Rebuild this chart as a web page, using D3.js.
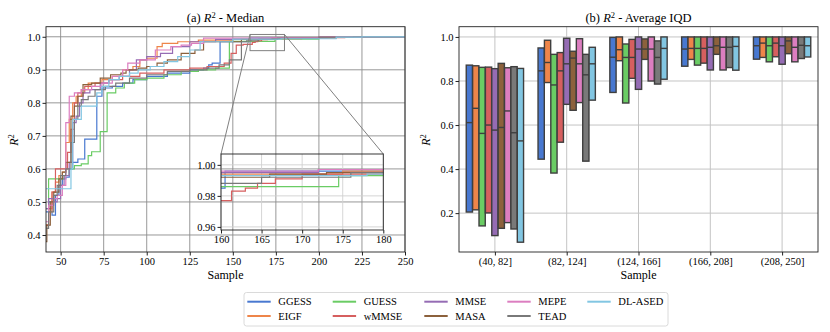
<!DOCTYPE html>
<html>
<head>
<meta charset="utf-8">
<script src="https://cdn.jsdelivr.net/npm/d3@7"></script>
<style>
  body { margin: 0; background: #fff; }
  svg { font-family: "Liberation Serif", "Times New Roman", serif; }
</style>
</head>
<body>
<svg id="fig" width="830" height="332"></svg>
<script>
// methods and colours
var methods = ["GGESS", "EIGF", "GUESS", "wMMSE", "MMSE", "MASA", "MEPE", "TEAD", "DL-ASED"];
var palette = ["#4878d0", "#ee854a", "#6acc64", "#d65f5f", "#956cb4", "#8c613c", "#dc7ec0", "#797979", "#82c6e2"];

// (a) median R2 vs sample, as [sample, value] steps
var ggessMedian = [[41,0.47],[43,0.50],[45,0.46],[47,0.52],[49,0.55],[51,0.57],[53,0.575],[55,0.60],[57,0.62],[60,0.63],[64,0.69],[71,0.82],[74,0.845],[80,0.85],[86,0.86],[92,0.87],[100,0.88],[112,0.89],[125,0.9],[133,0.905],[136,0.915],[138,0.92],[142.6,0.985],[160.5,0.996],[200,0.999],[215,1.0],[250,1.0]];
var eigfMedian = [[41,0.43],[43,0.47],[45,0.53],[47,0.56],[49,0.58],[51,0.59],[53,0.68],[55,0.75],[57,0.80],[59,0.82],[62,0.84],[66,0.86],[74,0.87],[80,0.88],[86,0.90],[92,0.91],[96,0.93],[100,0.935],[106,0.97],[109,0.98],[118,0.985],[130,0.99],[150,0.994],[175,0.996],[210,1.0],[250,1.0]];
var guessMedian = [[41,0.48],[43,0.57],[49,0.57],[52,0.58],[55,0.6],[58,0.61],[62,0.615],[66,0.64],[68,0.652],[73,0.713],[77,0.83],[82,0.845],[87,0.86],[93,0.87],[100,0.875],[110,0.885],[120,0.895],[130,0.9],[140,0.905],[148,0.986],[174.5,0.993],[200,0.998],[220,1.0],[250,1.0]];
var wmmseMedian = [[41,0.43],[43,0.48],[45,0.53],[47,0.6],[52,0.6],[54,0.65],[56,0.72],[58,0.80],[60,0.83],[64,0.85],[70,0.86],[78,0.87],[86,0.88],[96,0.89],[110,0.9],[125,0.905],[135,0.91],[145,0.92],[149,0.95],[152,0.975],[156,0.977],[161.3,0.983],[163,0.985],[164.5,0.988],[166.7,0.991],[170,0.994],[190,0.997],[215,1.0],[250,1.0]];
var mmseMedian = [[41,0.48],[43,0.51],[46,0.50],[48,0.51],[50,0.55],[52,0.58],[55,0.62],[57,0.74],[59,0.76],[61,0.8],[63,0.83],[67,0.84],[73,0.86],[78,0.87],[84,0.88],[90,0.90],[94,0.93],[100,0.94],[108,0.95],[115,0.97],[125,0.985],[140,0.992],[160,0.995],[172,0.997],[205,1.0],[250,1.0]];
var masaMedian = [[41,0.38],[42,0.43],[44,0.5],[46,0.53],[49,0.57],[51,0.59],[53,0.62],[56,0.76],[58,0.79],[60,0.82],[63,0.855],[68,0.86],[73,0.875],[79,0.885],[85,0.89],[88,0.9],[95,0.905],[100,0.91],[106,0.92],[112,0.93],[120,0.95],[128,0.96],[133,0.985],[155,0.992],[166,0.994],[173,0.995],[200,0.999],[215,1.0],[250,1.0]];
var mepeMedian = [[41,0.44],[43,0.49],[46,0.51],[48,0.52],[51,0.55],[53,0.74],[55,0.82],[58,0.83],[62,0.84],[68,0.85],[74,0.86],[80,0.88],[86,0.9],[89,0.92],[96,0.93],[105,0.96],[114,0.97],[120,0.975],[126,0.98],[133,0.996],[172,0.997],[200,1.0],[250,1.0]];
var teadMedian = [[41,0.42],[43,0.47],[46,0.52],[48,0.55],[50,0.58],[53,0.6],[56,0.68],[58,0.75],[60,0.79],[62,0.81],[66,0.82],[70,0.84],[76,0.85],[82,0.86],[90,0.875],[100,0.885],[112,0.895],[125,0.9],[135,0.905],[142,0.915],[148,0.93],[155,0.985],[158,0.988],[165,0.992],[176,0.995],[200,0.999],[220,1.0],[250,1.0]];
var dlasedMedian = [[41,0.54],[56,0.6],[57,0.75],[62,0.79],[71,0.83],[74,0.85],[78,0.87],[84,0.88],[90,0.89],[95,0.9],[102,0.91],[110,0.925],[118,0.94],[125,0.96],[131,0.985],[150,0.993],[178,0.994],[210,0.999],[225,1.0],[250,1.0]];
var medians = [ggessMedian, eigfMedian, guessMedian, wmmseMedian, mmseMedian, masaMedian, mepeMedian, teadMedian, dlasedMedian];

// (b) average IQD per sample bin: [q1, median, q3] per bin
var bins = ["(40, 82]", "(82, 124]", "(124, 166]", "(166, 208]", "(208, 250]"];
var ggessIqd  = [[0.205,0.611,0.872],[0.445,0.846,0.950],[0.748,0.908,0.998],[0.867,0.945,1.0],[0.899,0.960,1.0]];
var eigfIqd   = [[0.215,0.676,0.869],[0.793,0.884,0.985],[0.892,0.942,1.0],[0.898,0.948,1.0],[0.907,0.972,1.0]];
var guessIqd  = [[0.142,0.562,0.862],[0.382,0.782,0.921],[0.700,0.907,0.968],[0.872,0.948,1.0],[0.887,0.960,1.0]];
var wmmseIqd  = [[0.201,0.600,0.863],[0.522,0.846,0.929],[0.812,0.907,0.989],[0.881,0.948,1.0],[0.910,0.972,1.0]];
var mmseIqd   = [[0.098,0.577,0.856],[0.694,0.878,0.994],[0.762,0.945,1.0],[0.850,0.953,1.0],[0.876,0.960,1.0]];
var masaIqd   = [[0.131,0.589,0.880],[0.667,0.904,0.935],[0.898,0.945,0.991],[0.921,0.960,1.0],[0.924,0.982,1.0]];
var mepeIqd   = [[0.157,0.664,0.860],[0.702,0.878,0.992],[0.800,0.945,1.0],[0.850,0.953,1.0],[0.887,0.953,1.0]];
var teadIqd   = [[0.128,0.565,0.865],[0.436,0.828,0.921],[0.786,0.907,0.982],[0.861,0.953,1.0],[0.902,0.962,1.0]];
var dlasedIqd = [[0.068,0.528,0.857],[0.713,0.878,0.953],[0.808,0.948,1.0],[0.849,0.957,1.0],[0.909,0.960,1.0]];
var iqds = [ggessIqd, eigfIqd, guessIqd, wmmseIqd, mmseIqd, masaIqd, mepeIqd, teadIqd, dlasedIqd];

var leftTicksX = [50, 75, 100, 125, 150, 175, 200, 225, 250];
var leftTicksY = [0.4, 0.5, 0.6, 0.7, 0.8, 0.9, 1.0];
var insetTicksX = [160, 165, 170, 175, 180];
var insetTicksY = [0.96, 0.98, 1.00];
var rightTicksY = [0.2, 0.4, 0.6, 0.8, 1.0];

var svg = d3.select("#fig");
var plotTop = 26.7, plotBottom = 252;

function r2Label(g, x, y) {
    var t = g.append("text")
        .attr("transform", "translate(" + x + "," + y + ") rotate(-90)")
        .attr("text-anchor", "middle")
        .style("font-size", "12px");
    t.append("tspan").attr("font-style", "italic").text("R");
    t.append("tspan").attr("dy", -4).style("font-size", "8.5px").text("2");
    return t;
}

// ---------- (a) ----------
var xL = d3.scaleLinear().domain([41.5, 250]).range([46, 405]);
var yL = d3.scaleLinear().domain([0.3485, 1.0305]).range([plotBottom, plotTop]);

var gA = svg.append("g");
gA.append("g").selectAll("line").data(leftTicksX).enter().append("line")
    .attr("x1", xL).attr("x2", xL).attr("y1", plotTop).attr("y2", plotBottom)
    .attr("stroke", "#8c8c8c").attr("stroke-width", 0.9);
gA.append("g").selectAll("line").data(leftTicksY).enter().append("line")
    .attr("y1", yL).attr("y2", yL).attr("x1", 46).attr("x2", 405)
    .attr("stroke", "#8c8c8c").attr("stroke-width", 0.9);

gA.append("defs").append("clipPath").attr("id", "clipA")
    .append("rect").attr("x", 46).attr("y", plotTop).attr("width", 359).attr("height", plotBottom - plotTop);

var lineA = d3.line().curve(d3.curveStepAfter)
    .x(function (d) { return xL(d[0]); })
    .y(function (d) { return yL(d[1]); });

gA.append("g").attr("clip-path", "url(#clipA)")
    .selectAll("path").data(medians).enter().append("path")
    .attr("d", lineA)
    .attr("fill", "none")
    .attr("stroke-width", 1.2)
    .attr("stroke", function (d, i) { return palette[i]; });

gA.append("g").attr("transform", "translate(0," + plotBottom + ")")
    .call(d3.axisBottom(xL).tickValues(leftTicksX).tickSize(3.5).tickPadding(2).tickFormat(d3.format("d")));
gA.append("g").attr("transform", "translate(46,0)")
    .call(d3.axisLeft(yL).tickValues(leftTicksY).tickSize(3.5).tickPadding(2).tickFormat(d3.format(".1f")));
gA.append("rect").attr("x", 46).attr("y", plotTop).attr("width", 359).attr("height", plotBottom - plotTop)
    .attr("fill", "none").attr("stroke", "#222").attr("stroke-width", 0.9);

// inset
var xI = d3.scaleLinear().domain([160, 180]).range([221, 383.3]);
var yI = d3.scaleLinear().domain([0.958, 1.007]).range([230, 154]);

// marker box and connectors
gA.append("rect")
    .attr("x", xL(160)).attr("y", yL(1.007))
    .attr("width", xL(180) - xL(160)).attr("height", yL(0.958) - yL(1.007))
    .attr("fill", "none").attr("stroke", "#808080").attr("stroke-width", 1);
gA.append("line").attr("x1", xL(160)).attr("y1", yL(1.007)).attr("x2", xI(160)).attr("y2", yI(1.007))
    .attr("stroke", "#808080").attr("stroke-width", 1);
gA.append("line").attr("x1", xL(180)).attr("y1", yL(1.007)).attr("x2", xI(180)).attr("y2", yI(1.007))
    .attr("stroke", "#808080").attr("stroke-width", 1);

var gI = svg.append("g");
gI.append("g").selectAll("line").data(insetTicksX).enter().append("line")
    .attr("x1", xI).attr("x2", xI).attr("y1", 154).attr("y2", 230)
    .attr("stroke", "#d0d0d0").attr("stroke-width", 0.9);
gI.append("g").selectAll("line").data(insetTicksY).enter().append("line")
    .attr("y1", yI).attr("y2", yI).attr("x1", 221).attr("x2", 383.3)
    .attr("stroke", "#d0d0d0").attr("stroke-width", 0.9);
gI.append("defs").append("clipPath").attr("id", "clipI")
    .append("rect").attr("x", 221).attr("y", 154).attr("width", 162.3).attr("height", 76);
var lineI = d3.line().curve(d3.curveStepAfter)
    .x(function (d) { return xI(d[0]); })
    .y(function (d) { return yI(d[1]); });
gI.append("g").attr("clip-path", "url(#clipI)")
    .selectAll("path").data(medians).enter().append("path")
    .attr("d", lineI)
    .attr("fill", "none")
    .attr("stroke-width", 1.2)
    .attr("stroke", function (d, i) { return palette[i]; });
gI.append("g").attr("transform", "translate(0,230)")
    .call(d3.axisBottom(xI).tickValues(insetTicksX).tickSize(3.5).tickPadding(2).tickFormat(d3.format("d")));
gI.append("g").attr("transform", "translate(221,0)")
    .call(d3.axisLeft(yI).tickValues(insetTicksY).tickSize(3.5).tickPadding(2).tickFormat(d3.format(".2f")));
gI.append("rect").attr("x", 221).attr("y", 154).attr("width", 162.3).attr("height", 76)
    .attr("fill", "none").attr("stroke", "#222").attr("stroke-width", 0.9);

var tA = gA.append("text").attr("x", 225.5).attr("y", 22).attr("text-anchor", "middle").style("font-size", "12.5px");
tA.append("tspan").text("(a) ");
tA.append("tspan").attr("font-style", "italic").text("R");
tA.append("tspan").attr("dy", -4).style("font-size", "8.5px").text("2");
tA.append("tspan").attr("dy", 4).text(" - Median");
gA.append("text").attr("x", 225.5).attr("y", 279).attr("text-anchor", "middle").style("font-size", "12px").text("Sample");
r2Label(gA, 18, 140);

// ---------- (b) ----------
var xR = d3.scaleLinear().domain([-0.5, 4.5]).range([459, 818]);
var yR = d3.scaleLinear().domain([0.0235, 1.0465]).range([plotBottom, plotTop]);
var hue = d3.scaleBand().domain(methods).range([-0.4, 0.4]);

var gB = svg.append("g");
gB.append("g").selectAll("line").data(d3.range(bins.length)).enter().append("line")
    .attr("x1", xR).attr("x2", xR).attr("y1", plotTop).attr("y2", plotBottom)
    .attr("stroke", "#c4c4c4").attr("stroke-width", 1);
gB.append("g").selectAll("line").data(rightTicksY).enter().append("line")
    .attr("y1", yR).attr("y2", yR).attr("x1", 459).attr("x2", 818)
    .attr("stroke", "#c4c4c4").attr("stroke-width", 1);

var boxes = [];
iqds.forEach(function (arr, m) {
    arr.forEach(function (q, b) {
        boxes.push({ m: m, b: b, lo: q[0], mid: q[1], hi: q[2] });
    });
});
var slot = xR(hue.bandwidth()) - xR(0);
var bw = slot * 0.98;
function boxLeft(d) { return xR(d.b + hue(methods[d.m])) + (slot - bw) / 2; }
var boxG = gB.append("g").selectAll("g").data(boxes).enter().append("g");
boxG.append("rect")
    .attr("x", boxLeft)
    .attr("width", bw)
    .attr("y", function (d) { return yR(d.hi); })
    .attr("height", function (d) { return yR(d.lo) - yR(d.hi); })
    .attr("fill", function (d) { return palette[d.m]; })
    .attr("stroke", "#3f3f3f").attr("stroke-width", 1.4);
boxG.append("line")
    .attr("x1", boxLeft)
    .attr("x2", function (d) { return boxLeft(d) + bw; })
    .attr("y1", function (d) { return yR(d.mid); })
    .attr("y2", function (d) { return yR(d.mid); })
    .attr("stroke", "#3f3f3f").attr("stroke-width", 1.4);

gB.append("g").attr("transform", "translate(0," + plotBottom + ")")
    .call(d3.axisBottom(xR).tickValues(d3.range(bins.length)).tickSize(3.5).tickPadding(2)
        .tickFormat(function (d) { return bins[d]; }));
gB.append("g").attr("transform", "translate(459,0)")
    .call(d3.axisLeft(yR).tickValues(rightTicksY).tickSize(3.5).tickPadding(2).tickFormat(d3.format(".1f")));
gB.append("rect").attr("x", 459).attr("y", plotTop).attr("width", 359).attr("height", plotBottom - plotTop)
    .attr("fill", "none").attr("stroke", "#222").attr("stroke-width", 0.9);

var tB = gB.append("text").attr("x", 638.5).attr("y", 22).attr("text-anchor", "middle").style("font-size", "12.5px");
tB.append("tspan").text("(b) ");
tB.append("tspan").attr("font-style", "italic").text("R");
tB.append("tspan").attr("dy", -4).style("font-size", "8.5px").text("2");
tB.append("tspan").attr("dy", 4).text(" - Average IQD");
gB.append("text").attr("x", 638.5).attr("y", 279).attr("text-anchor", "middle").style("font-size", "12px").text("Sample");
r2Label(gB, 430, 140);

svg.selectAll(".tick text").style("font-size", "10.5px").style("font-family", "'Liberation Serif', serif").attr("fill", "#000");
svg.selectAll(".domain").remove();
svg.selectAll(".tick line").attr("stroke", "#222");

// ---------- legend ----------
var leg = svg.append("g");
leg.append("rect").attr("x", 244).attr("y", 292.5).attr("width", 424).attr("height", 33.5)
    .attr("rx", 2.5).attr("fill", "#fff").attr("stroke", "#d6d6d6").attr("stroke-width", 0.9);
var colX = [247.3, 332.7, 424.3, 507.3, 587.3];
var rowY = [301.7, 316];
var items = leg.selectAll("g.item").data(methods).enter().append("g").attr("class", "item")
    .attr("transform", function (d, i) {
        return "translate(" + colX[Math.floor(i / 2)] + "," + rowY[i % 2] + ")";
    });
items.append("line").attr("x1", 0).attr("x2", 23.4).attr("y1", 0).attr("y2", 0)
    .attr("stroke-width", 2).attr("stroke", function (d, i) { return palette[i]; });
items.append("text").attr("x", 31).attr("y", 0).attr("dy", "0.35em")
    .style("font-size", "10.5px").text(function (d) { return d; });
</script>
</body>
</html>
